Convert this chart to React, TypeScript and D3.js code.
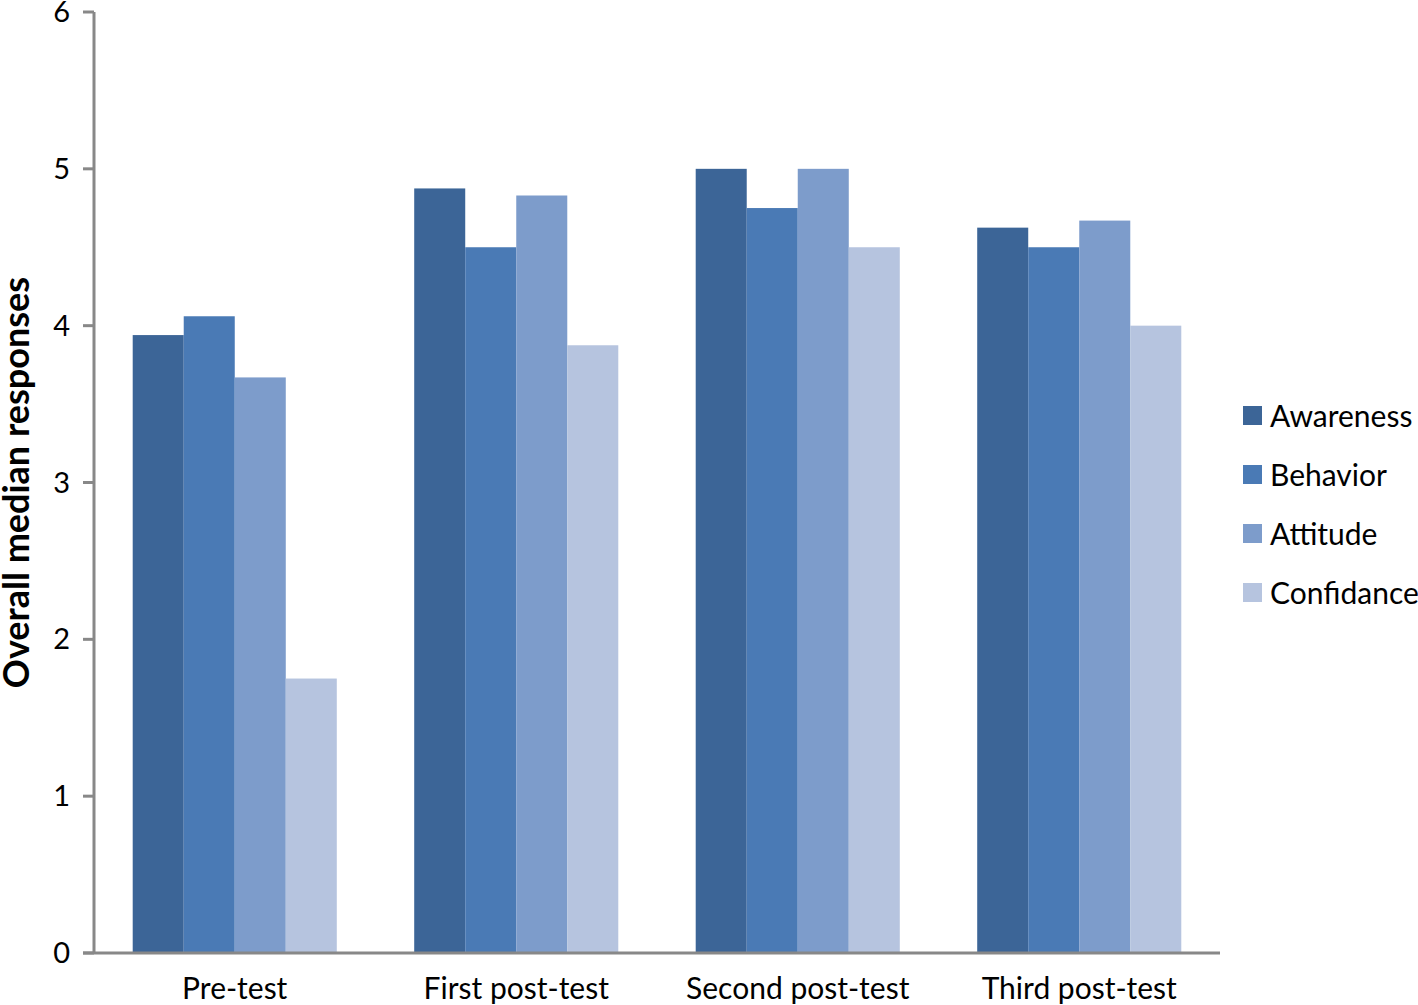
import * as d3 from "d3";

const categories = ["Pre-test", "First post-test", "Second post-test", "Third post-test"];
const seriesNames = ["Awareness", "Behavior", "Attitude", "Confidance"];
const awareness = [3.94, 4.875, 5.0, 4.625];
const behavior = [4.06, 4.5, 4.75, 4.5];
const attitude = [3.67, 4.83, 5.0, 4.67];
const confidance = [1.75, 3.875, 4.5, 4.0];
const yTicks = [0, 1, 2, 3, 4, 5, 6];
const colors = ["#3c6597", "#4a7ab5", "#7d9ccb", "#b6c4df"];

const W = 1418;
const H = 1005;
const m = { left: 94, right: 198, top: 12, bottom: 52 };
const font = "Lato, 'Open Sans', sans-serif";

export default function App() {
  const values = [awareness, behavior, attitude, confidance];
  const x0 = d3
    .scaleBand<string>()
    .domain(categories)
    .range([m.left, W - m.right])
    .paddingInner(0.275)
    .paddingOuter(0.1375);
  const x1 = d3
    .scaleBand<string>()
    .domain(seriesNames)
    .range([0, x0.bandwidth()]);
  const y = d3.scaleLinear().domain([0, 6]).range([H - m.bottom, m.top]);

  return (
    <svg width={W} height={H} style={{ position: "absolute", left: 0, top: 0, background: "#fff" }}>
      {categories.map((c, i) => (
        <g key={c}>
          {seriesNames.map((s, j) => (
            <rect
              key={s}
              x={x0(c)! + x1(s)!}
              width={x1.bandwidth()}
              y={y(values[j][i])}
              height={y(0) - y(values[j][i])}
              fill={colors[j]}
            />
          ))}
          <text
            x={x0(c)! + x0.bandwidth() / 2}
            y={y(0) + 46}
            textAnchor="middle"
            fontFamily={font}
            fontSize={30}
            fill="#000"
          >
            {c}
          </text>
        </g>
      ))}
      {/* y axis */}
      <line x1={m.left} x2={m.left} y1={y(6)} y2={y(0)} stroke="#888" strokeWidth={3} />
      {yTicks.map((t) => (
        <g key={t}>
          <line x1={m.left - 11} x2={m.left} y1={y(t)} y2={y(t)} stroke="#888" strokeWidth={3} />
          <text
            x={m.left - 24}
            y={y(t)}
            dy="0.35em"
            textAnchor="end"
            fontFamily={font}
            fontSize={29}
            fill="#000"
          >
            {t}
          </text>
        </g>
      ))}
      {/* x axis */}
      <line x1={m.left - 11} x2={W - m.right} y1={y(0)} y2={y(0)} stroke="#888" strokeWidth={3} />
      <text
        transform={`translate(29,${(y(0) + y(6)) / 2}) rotate(-90)`}
        textAnchor="middle"
        fontFamily={font}
        fontWeight="bold"
        fontSize={36}
        fill="#000"
      >
        Overall median responses
      </text>
      {/* legend */}
      {seriesNames.map((s, j) => (
        <g key={s} transform={`translate(1243,${416 + j * 59})`}>
          <rect x={0} y={-10} width={19} height={19} fill={colors[j]} />
          <text x={27} y={0} dy="0.35em" fontFamily={font} fontSize={30} fill="#000">
            {s}
          </text>
        </g>
      ))}
    </svg>
  );
}
